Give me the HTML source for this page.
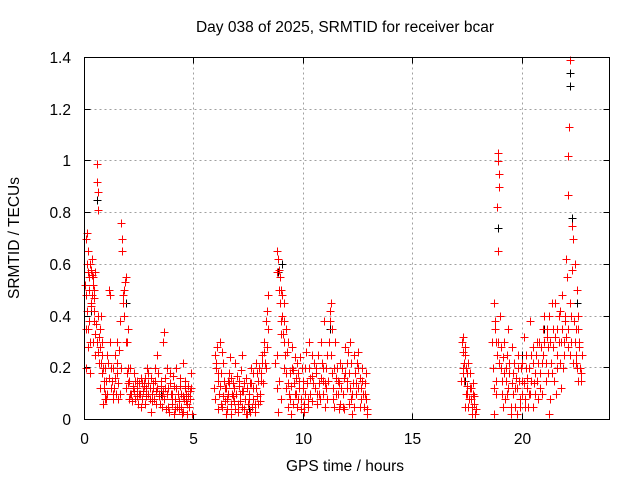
<!DOCTYPE html>
<html><head><meta charset="utf-8">
<style>
html,body{margin:0;padding:0;background:#fff;}
svg{display:block;font-family:"Liberation Sans",sans-serif;}
</style></head>
<body>
<svg id="chart" width="640" height="480" viewBox="0 0 640 480" xmlns="http://www.w3.org/2000/svg">
<rect width="640" height="480" fill="#fff"/>
<text x="345" y="32" font-size="15.5" text-anchor="middle" fill="#000">Day 038 of 2025, SRMTID for receiver bcar</text>
<text x="345" y="471" font-size="15.5" text-anchor="middle" fill="#000">GPS time / hours</text>
<text transform="translate(19,238) rotate(-90)" font-size="15.5" text-anchor="middle" fill="#000">SRMTID / TECUs</text>
<g id="grid"></g>
<g id="ticks"></g>
<g id="black" shape-rendering="crispEdges"></g>
<g id="red" shape-rendering="crispEdges"></g>
<rect x="84.5" y="57.5" width="525" height="362" fill="none" stroke="#000" stroke-width="1"/>
</svg>
<script>
const xTicks = [0, 5, 10, 15, 20];
const yTicks = [0, 0.2, 0.4, 0.6, 0.8, 1, 1.2, 1.4];
const yTickLabels = ["0", "0.2", "0.4", "0.6", "0.8", "1", "1.2", "1.4"];
const redT = [0.05,0.1,0.15,0.2,0.25,0.3,0.35,0.4,0.45,0.5,0.55,0.58,0.6,0.62,0.1,0.2,0.3,0.4,0.5,0.15,0.05,0.25,0.6,0.7,0.75,0.8,0.85,0.9,0.95,1.0,0.7,0.85,0.05,0.35,0.45,
1.1,1.15,1.2,1.25,1.3,1.4,1.5,1.6,1.65,1.7,1.72,1.75,1.8,1.85,1.9,1.95,2.0,2.05,2.1,1.5,1.35,1.55,1.9,2.0,
2.2,2.3,2.4,2.5,2.6,2.7,2.8,2.9,3.0,3.1,3.2,3.3,3.4,3.5,3.6,3.65,3.7,3.8,3.9,4.0,4.1,4.2,4.3,4.4,4.5,4.6,4.7,4.8,4.9,2.25,2.45,2.65,2.85,3.05,3.25,3.45,3.75,3.95,4.15,4.35,4.55,4.75,4.85,3.15,2.75,3.55,4.05,4.45,4.65,
5.95,6.0,6.05,6.1,6.15,6.2,6.3,6.4,6.5,6.6,6.7,6.8,6.9,7.0,7.1,7.2,7.3,7.4,7.5,7.6,7.7,7.8,7.9,8.0,8.1,8.2,8.25,8.3,8.35,8.4,6.25,6.45,6.65,6.85,7.05,7.25,7.45,7.65,7.85,8.05,6.35,6.75,7.15,7.55,7.95,6.55,
8.8,8.85,8.9,8.95,9.0,9.05,9.1,9.0,9.1,9.2,8.8,8.9,9.0,9.1,9.2,9.3,9.4,9.5,9.6,9.7,9.8,9.9,10.0,10.1,10.2,10.3,10.4,8.85,9.25,9.45,9.65,9.85,10.05,10.25,10.45,9.35,9.55,9.75,
10.6,10.7,10.8,10.9,11.0,11.1,11.2,11.25,11.3,11.4,11.5,11.6,11.7,11.8,11.9,12.0,12.1,12.2,12.3,12.4,12.5,12.6,12.7,12.8,12.9,10.65,10.85,11.05,11.45,11.65,11.85,12.05,12.25,12.45,12.65,12.85,11.35,10.95,12.15,
17.25,17.3,17.35,17.4,17.45,17.5,17.55,17.6,17.65,17.7,17.3,17.4,17.5,17.75,17.8,17.85,17.35,
18.7,18.75,18.8,18.85,18.9,18.92,18.95,18.97,18.85,18.9,19.0,19.05,19.1,19.2,19.3,19.4,19.5,19.6,19.7,19.8,19.9,20.0,20.1,20.2,20.3,20.4,20.5,20.6,20.7,20.8,20.9,21.0,21.1,21.2,21.3,21.4,21.5,21.6,21.7,21.8,21.9,22.0,22.05,22.1,22.15,22.2,22.1,22.2,22.3,22.35,22.4,22.45,22.5,22.55,22.6,22.65,22.7,18.8,19.15,19.35,19.55,19.75,19.95,20.15,20.35,20.55,20.75,20.95,21.15,21.35,21.55,21.75,21.95,22.25,22.45,22.55,18.7,19.25,20.25,21.25,21.85];
const redV = [0.70,0.72,0.65,0.55,0.60,0.58,0.62,0.55,0.50,0.57,0.92,0.99,0.88,0.81,0.42,0.38,0.44,0.30,0.25,0.28,0.20,0.18,0.40,0.35,0.22,0.30,0.20,0.15,0.10,0.08,0.12,0.06,0.35,0.48,0.38,
0.50,0.48,0.20,0.15,0.10,0.25,0.30,0.38,0.76,0.70,0.65,0.48,0.50,0.53,0.55,0.30,0.20,0.15,0.10,0.18,0.12,0.08,0.12,0.35,
0.12,0.08,0.15,0.10,0.05,0.13,0.09,0.18,0.12,0.07,0.20,0.25,0.10,0.15,0.30,0.34,0.12,0.05,0.18,0.08,0.13,0.20,0.04,0.10,0.22,0.15,0.06,0.11,0.02,0.18,0.06,0.14,0.20,0.03,0.11,0.06,0.20,0.10,0.04,0.16,0.08,0.13,0.18,0.14,0.16,0.09,0.17,0.02,0.10,
0.25,0.20,0.28,0.15,0.10,0.30,0.05,0.12,0.08,0.18,0.02,0.14,0.22,0.06,0.10,0.25,0.04,0.16,0.08,0.20,0.12,0.03,0.18,0.10,0.25,0.30,0.22,0.38,0.42,0.48,0.18,0.02,0.24,0.07,0.15,0.11,0.02,0.05,0.22,0.15,0.22,0.10,0.19,0.14,0.06,0.15,
0.65,0.62,0.58,0.55,0.50,0.48,0.45,0.38,0.30,0.35,0.25,0.15,0.08,0.20,0.12,0.05,0.18,0.28,0.10,0.22,0.15,0.04,0.12,0.20,0.08,0.16,0.25,0.03,0.26,0.02,0.16,0.24,0.06,0.30,0.14,0.10,0.19,0.08,
0.20,0.10,0.30,0.15,0.05,0.25,0.38,0.45,0.35,0.20,0.10,0.15,0.22,0.05,0.28,0.12,0.18,0.08,0.25,0.14,0.20,0.05,0.15,0.10,0.02,0.06,0.22,0.12,0.30,0.04,0.16,0.26,0.02,0.22,0.12,0.18,0.08,0.38,0.30,
0.30,0.20,0.15,0.25,0.10,0.18,0.05,0.12,0.08,0.02,0.32,0.05,0.13,0.10,0.06,0.02,0.22,
0.45,0.35,0.30,0.25,1.03,1.00,0.95,0.90,0.82,0.65,0.40,0.20,0.15,0.30,0.10,0.22,0.05,0.18,0.12,0.25,0.08,0.15,0.32,0.20,0.10,0.25,0.05,0.18,0.30,0.12,0.22,0.40,0.15,0.28,0.08,0.35,0.45,0.20,0.30,0.12,0.25,0.62,0.55,0.87,1.13,1.39,1.02,0.45,0.75,0.70,0.60,0.35,0.50,0.40,0.30,0.20,0.15,0.10,0.05,0.35,0.28,0.02,0.20,0.05,0.38,0.14,0.08,0.35,0.32,0.18,0.10,0.42,0.38,0.30,0.22,0.15,0.02,0.20,0.12,0.02,0.48];
const redT2 = [0.02,0.08,0.12,0.18,0.22,0.28,0.32,0.38,0.42,0.48,0.52,0.58,0.62,0.68,0.72,0.78,0.82,0.88,0.92,0.98,1.02,1.08,1.12,1.18,1.22,1.28,1.32,1.38,1.42,1.48,1.52,1.58,1.62,1.68,1.78,1.82,1.88,1.92,1.98,2.02,2.08,0.15,0.25,0.45,0.65,0.75,0.95,1.05,
2.12,2.18,2.22,2.28,2.32,2.38,2.42,2.48,2.52,2.58,2.62,2.68,2.72,2.78,2.82,2.88,2.92,2.98,3.02,3.08,3.12,3.18,3.22,3.28,3.32,3.38,3.42,3.48,3.52,3.58,3.62,3.68,3.72,3.78,3.82,3.88,3.92,3.98,4.02,4.08,4.12,4.18,4.22,4.28,4.32,4.38,4.42,4.48,4.52,4.58,4.62,4.68,4.72,4.78,4.82,4.88,
5.92,5.98,6.02,6.08,6.12,6.18,6.22,6.28,6.32,6.38,6.42,6.48,6.52,6.58,6.62,6.68,6.72,6.78,6.82,6.88,6.92,6.98,7.02,7.08,7.12,7.18,7.22,7.28,7.32,7.38,7.42,7.48,7.52,7.58,7.62,7.68,7.72,7.78,7.82,7.88,7.92,7.98,8.02,8.08,8.12,8.18,8.22,8.28,8.32,8.38,
8.72,8.78,8.82,8.88,8.92,8.98,9.02,9.08,9.12,9.18,9.22,9.28,9.32,9.38,9.42,9.48,9.52,9.58,9.62,9.68,9.72,9.78,9.82,9.88,9.92,9.98,10.02,10.08,10.12,10.18,10.22,10.28,10.32,10.38,10.42,10.48,
10.52,10.58,10.62,10.68,10.72,10.78,10.82,10.88,10.92,10.98,11.02,11.08,11.12,11.18,11.22,11.28,11.32,11.38,11.42,11.48,11.52,11.58,11.62,11.68,11.72,11.78,11.82,11.88,11.92,11.98,12.02,12.08,12.12,12.18,12.22,12.28,12.32,12.38,12.42,12.48,12.52,12.58,12.62,12.68,12.72,12.78,12.82,12.88,12.92,
17.22,17.28,17.32,17.38,17.42,17.48,17.52,17.58,17.62,17.68,17.72,17.78,17.82,17.88,
18.62,18.68,18.72,18.78,18.82,18.88,18.95,19.02,19.08,19.12,19.18,19.22,19.28,19.32,19.38,19.42,19.48,19.52,19.58,19.62,19.68,19.72,19.78,19.82,19.88,19.92,19.98,20.02,20.08,20.12,20.18,20.22,20.28,20.32,20.38,20.42,20.48,20.52,20.58,20.62,20.68,20.72,20.78,20.82,20.88,20.92,20.98,21.02,21.08,21.12,21.18,21.22,21.28,21.32,21.38,21.42,21.48,21.52,21.58,21.62,21.68,21.72,21.78,21.82,21.88,21.92,21.98,22.02,22.08,22.12,22.18,22.22,22.28,22.32,22.38,22.42,22.48,22.52,22.58,22.62,22.68,22.72];
const redV2 = [0.52,0.48,0.60,0.57,0.50,0.45,0.56,0.52,0.47,0.33,0.37,0.30,0.26,0.22,0.28,0.18,0.25,0.12,0.20,0.15,0.10,0.22,0.16,0.30,0.12,0.08,0.20,0.16,0.10,0.22,0.14,0.27,0.10,0.20,0.45,0.40,0.30,0.18,0.14,0.08,0.20,0.35,0.30,0.42,0.32,0.40,0.08,0.25,
0.10,0.07,0.13,0.11,0.15,0.09,0.12,0.14,0.10,0.16,0.08,0.11,0.14,0.06,0.12,0.10,0.14,0.08,0.16,0.10,0.12,0.08,0.15,0.06,0.12,0.18,0.09,0.13,0.05,0.11,0.08,0.16,0.04,0.10,0.12,0.03,0.14,0.06,0.10,0.02,0.08,0.12,0.05,0.10,0.07,0.13,0.05,0.09,0.03,0.12,0.07,0.02,0.09,0.05,0.08,0.12,
0.12,0.08,0.22,0.04,0.18,0.13,0.06,0.26,0.09,0.15,0.07,0.12,0.04,0.10,0.14,0.06,0.16,0.09,0.12,0.04,0.10,0.17,0.03,0.13,0.07,0.11,0.05,0.14,0.08,0.02,0.12,0.06,0.10,0.03,0.14,0.08,0.18,0.06,0.12,0.09,0.15,0.20,0.07,0.18,0.22,0.14,0.26,0.20,0.28,0.35,
0.22,0.12,0.57,0.50,0.45,0.33,0.40,0.33,0.38,0.25,0.18,0.14,0.30,0.08,0.13,0.20,0.06,0.14,0.24,0.10,0.05,0.18,0.12,0.08,0.20,0.15,0.03,0.10,0.26,0.14,0.05,0.20,0.10,0.17,0.07,0.22,
0.12,0.18,0.10,0.25,0.14,0.08,0.16,0.20,0.10,0.14,0.20,0.08,0.15,0.30,0.42,0.25,0.18,0.12,0.05,0.16,0.20,0.10,0.14,0.06,0.12,0.20,0.10,0.04,0.18,0.22,0.15,0.06,0.12,0.22,0.10,0.14,0.05,0.18,0.10,0.26,0.12,0.16,0.08,0.20,0.10,0.05,0.14,0.08,0.04,
0.15,0.26,0.18,0.28,0.20,0.10,0.22,0.08,0.18,0.12,0.05,0.14,0.09,0.04,
0.30,0.20,0.12,0.38,0.15,0.30,0.22,0.28,0.10,0.24,0.18,0.08,0.15,0.25,0.12,0.18,0.02,0.14,0.10,0.22,0.05,0.16,0.12,0.20,0.15,0.05,0.10,0.22,0.14,0.08,0.25,0.16,0.05,0.20,0.10,0.15,0.22,0.28,0.10,0.25,0.15,0.22,0.30,0.18,0.28,0.10,0.25,0.30,0.22,0.35,0.18,0.40,0.30,0.22,0.45,0.28,0.15,0.32,0.25,0.35,0.40,0.22,0.30,0.35,0.20,0.30,0.40,0.32,0.28,0.35,0.25,0.40,0.58,0.22,0.38,0.30,0.25,0.20,0.35,0.28,0.18,0.25];
const blackT = [0.3,0.55,1.9,3.5,7.5,8.85,9.05,11.2,17.4,18.9,20.0,21.0,22.2,22.2,22.3,22.5];
const blackV = [0.42,0.85,0.45,0.10,0.04,0.57,0.60,0.35,0.15,0.74,0.25,0.35,1.34,1.29,0.78,0.45];

const X0=84.5, X1=609.5, Y0=419.5, Y1=57.5, XMAX=24, YMAX=1.4;
const sx = t => X0 + (t/XMAX)*(X1-X0);
const sy = v => Y0 - (v/YMAX)*(Y0-Y1);
const NS="http://www.w3.org/2000/svg";
function mk(tag, attrs, parent){const e=document.createElementNS(NS,tag);for(const k in attrs)e.setAttribute(k,attrs[k]);parent.appendChild(e);return e;}
const grid=document.getElementById('grid'), ticks=document.getElementById('ticks');
xTicks.forEach(t=>{
  const x=Math.round(sx(t)-0.5)+0.5;
  if(t>0){const g=mk('line',{x1:x,x2:x,y1:Y1,y2:Y0,stroke:'#a0a0a0','stroke-dasharray':'2,3'},grid);
  
  }
  const a=mk('path',{d:`M${x},${Y0}v-6M${x},${Y1}v6`,stroke:'#000'},ticks);
  
  
  const l=mk('text',{x:x,y:444,'font-size':15.5,'text-anchor':'middle',fill:'#000'},ticks);
  l.textContent=String(t);
  
  
});
yTicks.forEach((v,i)=>{
  const y=Math.round(sy(v)-0.5)+0.5;
  if(v>0&&v<YMAX){const g=mk('line',{x1:X0,x2:X1,y1:y,y2:y,stroke:'#a0a0a0','stroke-dasharray':'2,3'},grid);
  
  }
  const a=mk('path',{d:`M${X0},${y}h6M${X1},${y}h-6`,stroke:'#000'},ticks);
  
  
  const l=mk('text',{x:71,y:y+5.5,'font-size':15.5,'text-anchor':'end',fill:'#000'},ticks);
  l.textContent=yTickLabels[i];
  
  
});
function plot(ts, vs, color, gid, name){
  const g=document.getElementById(gid);
  let d='';
  for(let i=0;i<ts.length;i++){
    const x=Math.round(sx(ts[i]))+0.5, y=Math.round(sy(vs[i]))+0.5;
    d+=`M${x-4},${y}h8M${x},${y-4}v8`;
  }
  const p=mk('path',{d:d,stroke:color,'stroke-width':1,fill:'none'},g);
  
  
}
plot(blackT, blackV, '#000', 'black', 'black-series-points');
plot(redT, redV, '#ff0000', 'red', 'red-series-points');
plot(redT2, redV2, '#ff0000', 'red', 'red-series-points-extra');
</script>
</body></html>
